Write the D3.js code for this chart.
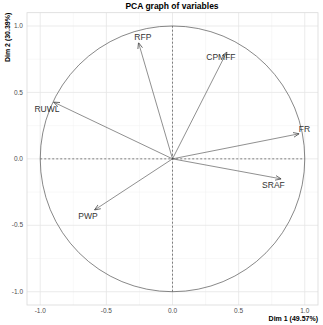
<!DOCTYPE html>
<html>
<head>
<meta charset="utf-8">
<script src="https://d3js.org/d3.v7.min.js"></script>
<style>
body { margin: 0; background: white; }
text { font-family: "Liberation Sans", Arial, sans-serif; }
</style>
</head>
<body>
<div id="chart"></div>
<script>
// variables and their coordinates on Dim 1 / Dim 2
var vars = ["RFP", "CPMFF", "RUWL", "FR", "SRAF", "PWP"];
var dim1 = [-0.257, 0.411, -0.899, 0.958, 0.822, -0.590];
var dim2 = [0.875, 0.805, 0.427, 0.189, -0.151, -0.385];
// label positions (repelled)
var labX = [-0.224, 0.366, -0.949, 0.998, 0.763, -0.639];
var labY = [0.918, 0.767, 0.372, 0.221, -0.199, -0.433];
var ticks = [-1.0, -0.5, 0.0, 0.5, 1.0];
var minorTicks = [-0.75, -0.25, 0.25, 0.75];

var W = 323, H = 325;
var svg = d3.select("#chart").append("svg")
  .attr("width", W).attr("height", H);

var x = d3.scaleLinear().domain([-1.1, 1.1]).range([27, 318]);
var y = d3.scaleLinear().domain([-1.1, 1.1]).range([305, 12.7]);
var fmt = d => d3.format(".1f")(d).replace("\u2212", "-");

// grid
var grid = svg.append("g");
grid.selectAll(".minx").data(minorTicks).enter().append("line")
  .attr("x1", d => x(d)).attr("x2", d => x(d))
  .attr("y1", y(-1.1)).attr("y2", y(1.1))
  .attr("stroke", "#f0f0f0").attr("stroke-width", 0.5);
grid.selectAll(".miny").data(minorTicks).enter().append("line")
  .attr("y1", d => y(d)).attr("y2", d => y(d))
  .attr("x1", x(-1.1)).attr("x2", x(1.1))
  .attr("stroke", "#f0f0f0").attr("stroke-width", 0.5);
grid.selectAll(".majx").data(ticks).enter().append("line")
  .attr("x1", d => x(d)).attr("x2", d => x(d))
  .attr("y1", y(-1.1)).attr("y2", y(1.1))
  .attr("stroke", "#e6e6e6").attr("stroke-width", 0.8);
grid.selectAll(".majy").data(ticks).enter().append("line")
  .attr("y1", d => y(d)).attr("y2", d => y(d))
  .attr("x1", x(-1.1)).attr("x2", x(1.1))
  .attr("stroke", "#e6e6e6").attr("stroke-width", 0.8);

// panel border
svg.append("rect")
  .attr("x", x(-1.1)).attr("y", y(1.1))
  .attr("width", x(1.1) - x(-1.1)).attr("height", y(-1.1) - y(1.1))
  .attr("fill", "none").attr("stroke", "#d9d9d9").attr("stroke-width", 0.8);

// tick labels
svg.selectAll(".xt").data(ticks).enter().append("text")
  .attr("x", d => x(d)).attr("y", 313)
  .attr("text-anchor", "middle")
  .attr("font-size", 6.5).attr("fill", "#4d4d4d")
  .text(fmt);
svg.selectAll(".yt").data(ticks).enter().append("text")
  .attr("x", 23).attr("y", d => y(d) + 2.2)
  .attr("text-anchor", "end")
  .attr("font-size", 6.5).attr("fill", "#4d4d4d")
  .text(fmt);

// dashed axes
svg.append("line")
  .attr("x1", x(-1)).attr("x2", x(1)).attr("y1", y(0)).attr("y2", y(0))
  .attr("stroke", "#333").attr("stroke-width", 0.6).attr("stroke-dasharray", "2,2");
svg.append("line")
  .attr("x1", x(0)).attr("x2", x(0)).attr("y1", y(-1)).attr("y2", y(1))
  .attr("stroke", "#333").attr("stroke-width", 0.6).attr("stroke-dasharray", "2,2");

// correlation circle
svg.append("ellipse")
  .attr("cx", x(0)).attr("cy", y(0))
  .attr("rx", x(1) - x(0)).attr("ry", y(0) - y(1))
  .attr("fill", "none").attr("stroke", "#555").attr("stroke-width", 0.7);

// arrow marker
svg.append("defs").append("marker")
  .attr("id", "arr")
  .attr("viewBox", "0 0 10 10")
  .attr("refX", 10).attr("refY", 5)
  .attr("markerWidth", 6).attr("markerHeight", 6)
  .attr("markerUnits", "userSpaceOnUse")
  .attr("orient", "auto")
  .append("path")
  .attr("d", "M0,1 L10,5 L0,9")
  .attr("fill", "none").attr("stroke", "#444").attr("stroke-width", 1.2);

var idx = d3.range(vars.length);
svg.selectAll(".arrow").data(idx).enter().append("line")
  .attr("x1", x(0)).attr("y1", y(0))
  .attr("x2", i => x(dim1[i])).attr("y2", i => y(dim2[i]))
  .attr("stroke", "#444").attr("stroke-width", 0.6)
  .attr("marker-end", "url(#arr)");

svg.selectAll(".lab").data(idx).enter().append("text")
  .attr("x", i => x(labX[i])).attr("y", i => y(labY[i]) + 3)
  .attr("text-anchor", "middle")
  .attr("font-size", 8.5).attr("fill", "#333")
  .text(i => vars[i]);

// title
svg.append("text")
  .attr("x", 172).attr("y", 9)
  .attr("text-anchor", "middle")
  .attr("font-size", 8.5).attr("font-weight", "bold").attr("fill", "#000")
  .text("PCA graph of variables");

// axis titles
svg.append("text")
  .attr("x", 318).attr("y", 321)
  .attr("text-anchor", "end")
  .attr("font-size", 7).attr("font-weight", "bold").attr("fill", "#000")
  .text("Dim 1 (49.57%)");
svg.append("text")
  .attr("transform", "translate(10,12.7) rotate(-90)")
  .attr("text-anchor", "end")
  .attr("font-size", 7).attr("font-weight", "bold").attr("fill", "#000")
  .text("Dim 2 (30.39%)");
</script>
</body>
</html>
